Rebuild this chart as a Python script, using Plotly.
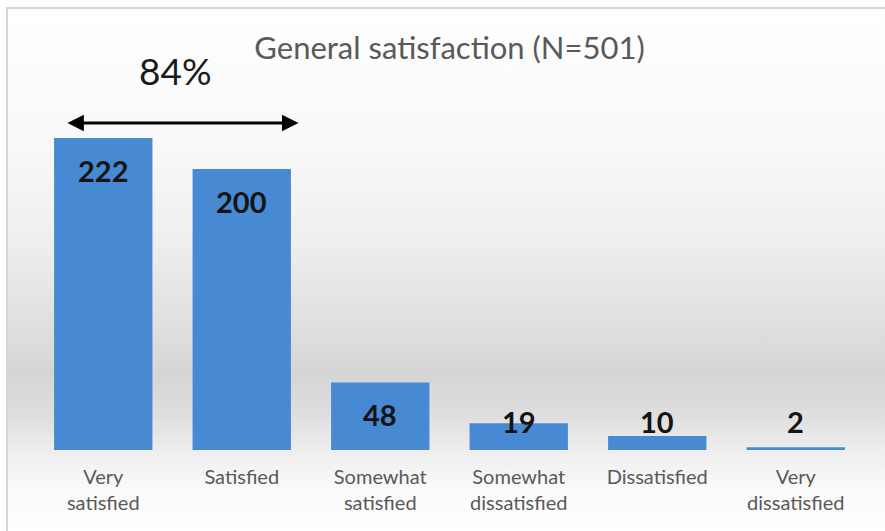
import base64

import plotly.graph_objects as go

CATEGORIES = ["Very<br>satisfied", "Satisfied", "Somewhat<br>satisfied",
              "Somewhat<br>dissatisfied", "Dissatisfied", "Very<br>dissatisfied"]
COUNTS = [222, 200, 48, 19, 10, 2]
TITLE = "General satisfaction (N=501)"
TOP_SHARE = "84%"

BAR_COLOR = "#4789d3"
TEXT_GRAY = "#595959"
FONT = "Lato"

W, H = 885, 531
M_L, M_R, M_T, M_B = 34, 20, 60, 81
Y_MAX = 277.6

# soft grey band behind the bars, as an svg gradient image
svg = (
    '<svg xmlns="http://www.w3.org/2000/svg" width="100" height="100" preserveAspectRatio="none">'
    '<defs><linearGradient id="g" x1="0" y1="0" x2="0" y2="1">'
    '<stop offset="0" stop-color="#ffffff"/>'
    '<stop offset="0.25" stop-color="#f9f9f9"/>'
    '<stop offset="0.45" stop-color="#eeeeee"/>'
    '<stop offset="0.62" stop-color="#dedede"/>'
    '<stop offset="0.70" stop-color="#d5d5d5"/>'
    '<stop offset="0.78" stop-color="#dfdfdf"/>'
    '<stop offset="0.86" stop-color="#f0f0f0"/>'
    '<stop offset="0.92" stop-color="#fafafa"/>'
    '<stop offset="1" stop-color="#ffffff"/>'
    '</linearGradient></defs>'
    '<rect width="100" height="100" fill="url(#g)"/></svg>'
)
bg_src = "data:image/svg+xml;base64," + base64.b64encode(svg.encode()).decode()

pw, ph = W - M_L - M_R, H - M_T - M_B


def px_x(px):
    return (px - M_L) / pw


def px_y(py):
    return 1 - (py - M_T) / ph


fig = go.Figure(
    go.Bar(
        x=CATEGORIES,
        y=COUNTS,
        marker=dict(color=BAR_COLOR, line=dict(width=0)),
        width=0.71,
        hoverinfo="x+y",
    )
)

# value labels: inside near the top of tall bars, floating above short ones
label_units = 22.8
floor_units = 20.6
for cat, v in zip(CATEGORIES, COUNTS):
    fig.add_annotation(
        x=cat, y=max(v - label_units, floor_units),
        text=f"<b>{v}</b>", showarrow=False, yanchor="middle",
        font=dict(family=FONT, size=29, color="#141414"),
    )

# double-headed arrow over the first two bars
fig.add_annotation(
    x=1.41, y=232.7, ax=-0.27, ay=232.7, axref="x", ayref="y",
    xref="x", yref="y", text="", showarrow=True,
    arrowhead=2, startarrowhead=2, arrowside="end+start",
    arrowsize=1.1, startarrowsize=1.1, arrowwidth=3, arrowcolor="#000000",
)
fig.add_annotation(
    x=0.52, y=270, xref="x", yref="y", text=TOP_SHARE, showarrow=False,
    font=dict(family=FONT, size=37, color="#1a1a1a"),
)

fig.update_layout(
    width=W, height=H,
    margin=dict(l=M_L, r=M_R, t=M_T, b=M_B),
    paper_bgcolor="#ffffff",
    plot_bgcolor="rgba(0,0,0,0)",
    showlegend=False,
    title=dict(
        text=TITLE, xref="paper", x=0.5, xanchor="center",
        y=1 - 48 / H, yanchor="middle",
        font=dict(family=FONT, size=31, color=TEXT_GRAY),
    ),
    xaxis=dict(
        showgrid=False, zeroline=False, showline=False, ticks="",
        tickfont=dict(family=FONT, size=20, color=TEXT_GRAY),
        ticklabelstandoff=13,
        automargin=False,
    ),
    yaxis=dict(range=[0, Y_MAX], visible=False, fixedrange=True),
    images=[dict(
        source=bg_src, xref="paper", yref="paper",
        x=px_x(8), y=px_y(9), sizex=px_x(W) - px_x(8), sizey=px_y(9) - px_y(H),
        xanchor="left", yanchor="top", sizing="stretch", layer="below",
    )],
    shapes=[dict(
        type="rect", xref="paper", yref="paper",
        x0=px_x(7), y0=px_y(H + 5), x1=px_x(W + 5), y1=px_y(8),
        line=dict(color="#d6d6d6", width=2), fillcolor="rgba(0,0,0,0)", layer="below",
    )],
)

fig.write_html(
    "out.html",
    config={"displayModeBar": False},
    post_script="document.body.style.margin='0';document.body.style.overflow='hidden';",
)
